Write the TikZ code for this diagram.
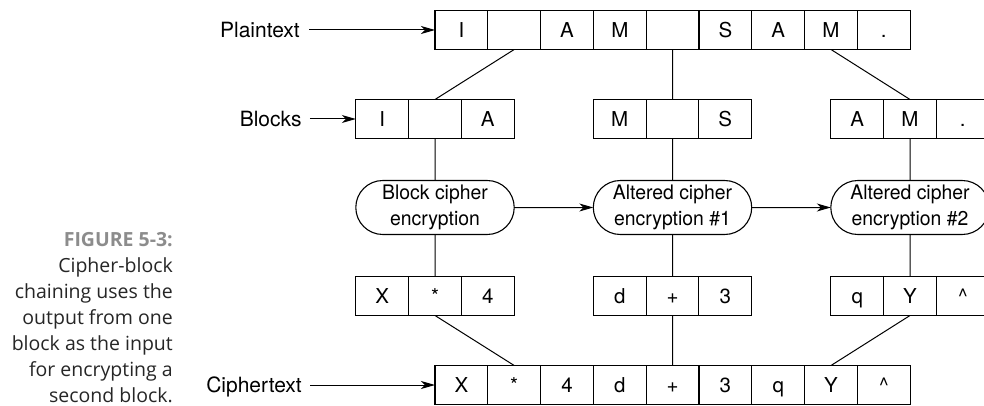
\documentclass[tikz,border=0pt]{standalone}
\usepackage{fontspec}
\setmainfont{TeX Gyre Heros}
\newfontfamily\capfont{Open Sans}
\newfontfamily\encfont{TeX Gyre Heros}[FakeStretch=0.97]
\usetikzlibrary{arrows.meta,positioning,shapes.misc}
\definecolor{capgray}{RGB}{140,140,140}

\begin{document}
\begin{tikzpicture}[
  x=1pt,y=-1pt,
  cell/.style={rectangle,draw,line width=1.1pt,outer sep=0pt,inner sep=0pt,
               minimum width=52.8pt,minimum height=39pt,text height=14.4pt,text depth=0pt,
               font=\fontsize{20.5}{24}\selectfont},
  enc/.style ={rounded rectangle,draw,line width=1.1pt,outer sep=0pt,inner sep=0pt,
               minimum width=158.4pt,minimum height=54pt,align=center,
               font=\encfont\fontsize{20}{26}\selectfont},
  lbl/.style ={inner sep=0pt,text height=15pt,text depth=0pt,font=\fontsize{21}{24}\selectfont},
  figcap/.style={align=right,inner sep=0pt,text=black!85,font=\capfont\fontsize{19.5}{26}\selectfont},
  conn/.style={line width=1pt},
  arr/.style ={-{Stealth[length=14pt,width=8pt,inset=4pt]},line width=1pt}
]
\useasboundingbox (0,0) rectangle (984,406);
\clip (0,0) rectangle (984,406);

% plaintext row
\node[cell](p1) at (461.4,30){I};
\node[cell,right=0pt of p1](p2){};
\node[cell,right=0pt of p2](p3){A};
\node[cell,right=0pt of p3](p4){M};
\node[cell,right=0pt of p4](p5){};
\node[cell,right=0pt of p5](p6){S};
\node[cell,right=0pt of p6](p7){A};
\node[cell,right=0pt of p7](p8){M};
\node[cell,right=0pt of p8](p9){.};

% blocks
\node[cell](b2) at (435,119){};
\node[cell,left=0pt of b2](b1){I};
\node[cell,right=0pt of b2](b3){A};
\node[cell](b5) at (672.5,119){};
\node[cell,left=0pt of b5](b4){M};
\node[cell,right=0pt of b5](b6){S};
\node[cell](b8) at (910,119){M};
\node[cell,left=0pt of b8](b7){A};
\node[cell,right=0pt of b8](b9){.};

% encryption steps
\node[enc,below=42pt of b2](e1){Block cipher\\encryption};
\node[enc,below=42pt of b5](e2){Altered cipher\\encryption \#1};
\node[enc,below=42pt of b8](e3){Altered cipher\\encryption \#2};

% encrypted blocks
\node[cell,below=42pt of e1](c2){*};
\node[cell,left=0pt of c2](c1){X};
\node[cell,right=0pt of c2](c3){4};
\node[cell,below=42pt of e2](c5){+};
\node[cell,left=0pt of c5](c4){d};
\node[cell,right=0pt of c5](c6){3};
\node[cell,below=42pt of e3](c8){Y};
\node[cell,left=0pt of c8](c7){q};
\node[cell,right=0pt of c8](c9){\textasciicircum};

% ciphertext row
\node[cell](x1) at (461.4,385){X};
\node[cell,right=0pt of x1](x2){*};
\node[cell,right=0pt of x2](x3){4};
\node[cell,right=0pt of x3](x4){d};
\node[cell,right=0pt of x4](x5){+};
\node[cell,right=0pt of x5](x6){3};
\node[cell,right=0pt of x6](x7){q};
\node[cell,right=0pt of x7](x8){Y};
\node[cell,right=0pt of x8](x9){\textasciicircum};

% labels
\node[lbl,left=135pt of p1](lp){Plaintext};
\node[lbl,left=54pt of b1](lb){Blocks};
\node[lbl,left=133pt of x1](lc){Ciphertext};

\node[figcap,anchor=north east](fig) at (173,232){{\bfseries\color{capgray}FIGURE 5-3:}\\
  Cipher-block\\chaining uses the\\output from one\\block as the input\\for encrypting a\\second block.};

\draw[arr,shorten <=9pt](lp)--(p1);
\draw[arr,shorten <=8pt](lb)--(b1);
\draw[arr,shorten <=8pt](lc)--(x1);
\draw[conn](p2.south)--(b2.north);
\draw[conn](p5.south)--(b5.north);
\draw[conn](p8.south)--(b8.north);
\draw[conn](b2)--(e1); \draw[conn](b5)--(e2); \draw[conn](b8)--(e3);
\draw[arr](e1)--(e2); \draw[arr](e2)--(e3);
\draw[conn](e1)--(c2); \draw[conn](e2)--(c5); \draw[conn](e3)--(c8);
\draw[conn](c2.south)--(x2.north);
\draw[conn](c5.south)--(x5.north);
\draw[conn](c8.south)--(x8.north);
\end{tikzpicture}
\end{document}
